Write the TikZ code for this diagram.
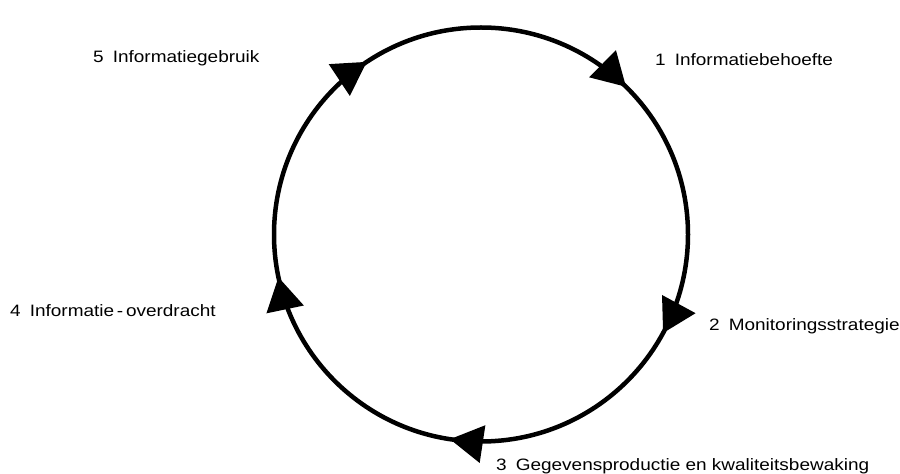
\documentclass[tikz,border=0pt]{standalone}
\usepackage{fontspec}
\newfontfamily\labfont[FakeStretch=1.15]{Liberation Sans}
\usetikzlibrary{arrows.meta,decorations.markings}
\tikzset{
  lab/.style={anchor=base west, inner sep=0pt, font=\labfont\fontsize{16.5}{18}\selectfont},
  cyc/.style={line width=4.5pt, black},
  tipmark/.style={postaction={decorate, decoration={markings,
     mark=at position #1 with {\arrow{Triangle[length=33pt,width=37pt]}}}}}
}
\newcommand{\nsep}{\hspace{0.55em}}
\begin{document}
\begin{tikzpicture}[x=1pt,y=1pt]
\useasboundingbox (0,0) rectangle (900,474);
\coordinate (c) at (481,239.5);
\draw[cyc, tipmark=0.1236, tipmark=0.329, tipmark=0.524, tipmark=0.717, tipmark=0.907]
  (c) ++(90:207) arc[start angle=90, end angle=-270, radius=207];
\node[lab] (l1) at (655,408) {1\nsep Informatiebehoefte};
\node[lab] (l2) at (709,143) {2\nsep Monitoringsstrategie};
\node[lab] (l3) at (496,3) {3\nsep Gegevensproductie en kwaliteitsbewaking};
\node[lab] (l4) at (10,157) {4\nsep Informatie\,-\,overdracht};
\node[lab] (l5) at (93,411) {5\nsep Informatiegebruik};
\end{tikzpicture}
\end{document}
